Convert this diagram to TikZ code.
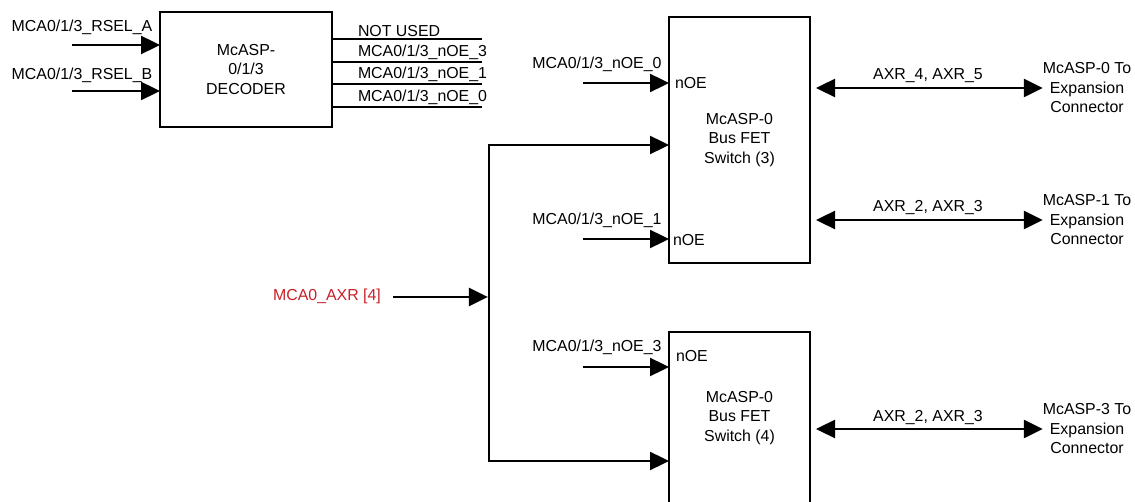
\documentclass[tikz,border=0pt]{standalone}
\usepackage{fontspec}
\setmainfont{Liberation Sans}
\usetikzlibrary{arrows.meta,calc}
\definecolor{axrred}{RGB}{200,32,40}
\begin{document}
\begin{tikzpicture}[x=1pt,y=-1pt,
  every node/.style={font=\fontsize{15.9}{19.5}\selectfont, inner sep=0pt, outer sep=0pt},
  blk/.style={draw, line width=2.3pt},
  wire/.style={line width=2.3pt},
  arr/.style={line width=2.4pt, -{Triangle[length=19pt,width=18pt]}},
  dbl/.style={line width=2.4pt, {Triangle[length=19pt,width=18pt]}-{Triangle[length=19pt,width=18pt]}},
  lbl/.style={align=center}]
\useasboundingbox (0,0) rectangle (1135,502);
\clip (0,0) rectangle (1135,502);

% decoder
\node[blk, minimum width=172pt, minimum height=115pt, lbl] (dec) at (246,69.5) {McASP-\\0/1/3\\DECODER};
\coordinate (ina) at (72,45);
\coordinate (inb) at (72,91);
\node (la) at (82,27.5) {MCA0/1/3\_RSEL\_A};
\node (lb) at (82,75) {MCA0/1/3\_RSEL\_B};
\draw[arr] (ina) -- (ina -| dec.west);
\draw[arr] (inb) -- (inb -| dec.west);

\coordinate (o1) at (482,39);
\coordinate (o2) at (482,62);
\coordinate (o3) at (482,84);
\coordinate (o4) at (482,107);
\draw[wire] (o1 -| dec.east) -- (o1);
\draw[wire] (o2 -| dec.east) -- (o2);
\draw[wire] (o3 -| dec.east) -- (o3);
\draw[wire] (o4 -| dec.east) -- (o4);
\node[anchor=base west] (t1) at (358,37) {NOT USED};
\node[anchor=base west] (t2) at (358,56.5) {MCA0/1/3\_nOE\_3};
\node[anchor=base west] (t3) at (358,78.5) {MCA0/1/3\_nOE\_1};
\node[anchor=base west] (t4) at (358,102) {MCA0/1/3\_nOE\_0};

% switch 1
\node[blk, minimum width=141pt, minimum height=246pt, lbl] (s1) at (739.5,140) {McASP-0\\Bus FET\\Switch (3)};
\node[anchor=west] (n1) at (675,83) {nOE};
\node[anchor=west] (n2) at (673,240) {nOE};
\coordinate (e0) at (583,83);
\coordinate (e1) at (583,239);
\node (le0) at (597,64) {MCA0/1/3\_nOE\_0};
\node (le1) at (597,220) {MCA0/1/3\_nOE\_1};
\draw[arr] (e0) -- (e0 -| s1.west);
\draw[arr] (e1) -- (e1 -| s1.west);

% switch 2
\node[blk, minimum width=141pt, minimum height=200pt] (s2) at (739.5,432) {};
\node[lbl] (s2t) at (739.5,418) {McASP-0\\Bus FET\\Switch (4)};
\node[anchor=west] (n3) at (676,356) {nOE};
\coordinate (e3) at (583,367);
\node (le3) at (597,347) {MCA0/1/3\_nOE\_3};
\draw[arr] (e3) -- (e3 -| s2.west);

% bus
\coordinate (bt) at (489,145);
\coordinate (bm) at (489,297);
\coordinate (bb) at (489,461);
\draw[wire] (bb) -- (bt);
\draw[arr] ([xshift=-1.15pt]bt) -- (bt -| s1.west);
\draw[arr] ([xshift=-1.15pt]bb) -- (bb -| s2.west);
\node[text=axrred] (axr) at (327,296) {MCA0\_AXR [4]};
\coordinate (ai) at (393,297);
\draw[arr] (ai) -- ([xshift=-1.15pt]bm);

% connectors
\node[lbl] (c0) at (1087,88) {McASP-0 To\\Expansion\\Connector};
\node[lbl] (c1) at (1087,220) {McASP-1 To\\Expansion\\Connector};
\node[lbl] (c3) at (1087,429) {McASP-3 To\\Expansion\\Connector};
\draw[dbl] ($(s1.east |- c0)+(6,0)$) -- (c0.west);
\draw[dbl] ($(s1.east |- c1)+(6,0)$) -- (c1.west);
\draw[dbl] ($(s2.east |- c3)+(6,0)$) -- (c3.west);
\node (x0) at (928,76) {AXR\_4, AXR\_5};
\node (x1) at (928,208) {AXR\_2, AXR\_3};
\node (x3) at (928,418) {AXR\_2, AXR\_3};
\end{tikzpicture}
\end{document}
